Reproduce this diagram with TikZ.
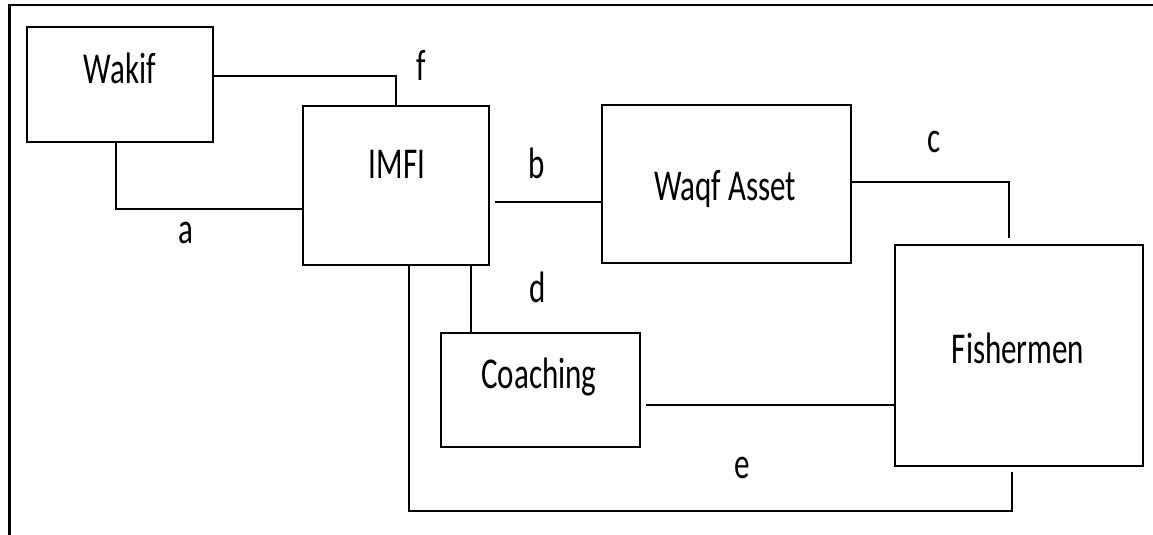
\documentclass[tikz,border=0pt]{standalone}
\usepackage{fontspec}
\setmainfont{Carlito}
\newcommand{\tallt}[1]{\scalebox{1}[1.42]{#1}}
\begin{document}
\begin{tikzpicture}[x=1pt,y=-1pt,
  box/.style={draw=black,line width=2pt,rectangle,inner sep=0pt,fill=none},
  lbl/.style={inner sep=0pt,anchor=base,font=\fontsize{31}{31}\selectfont,text=black},
  conn/.style={draw=black,line width=2pt},
  frameline/.style={draw=black,line width=2.5pt}]
\useasboundingbox (0,0) rectangle (1153,535);
\fill[white] (0,0) rectangle (1153,535);
% frame
\coordinate (ftr) at (1153,5);
\coordinate (ftl) at (9.5,5);
\coordinate (fbl) at (9.5,535);
\draw[frameline] (ftr) -- (ftl) -- (fbl);
% boxes
\node[box,minimum width=186pt,minimum height=115pt] (wakif) at (120,84.5) {};
\node[box,minimum width=186pt,minimum height=159pt] (imfi) at (396,185.5) {};
\node[box,minimum width=249pt,minimum height=158pt] (waqf) at (726.5,184) {};
\node[box,minimum width=199pt,minimum height=114pt] (coach) at (540.5,390) {};
\node[box,minimum width=248pt,minimum height=221pt] (fish) at (1019,355.5) {};
% box texts
\node[lbl] (wakift) at (120,83) {\tallt{Wakif}};
\node[lbl] (imfit) at (397,178) {\tallt{IMFI}};
\node[lbl] (waqft) at (725,200) {\tallt{Waqf Asset}};
\node[lbl] (coacht) at (539,388) {\tallt{Coaching}};
\node[lbl] (fisht) at (1018,363) {\tallt{Fishermen}};
% connector labels
\node[lbl] (la) at (186,243) {\tallt{a}};
\node[lbl] (lb) at (537,178) {\tallt{b}};
\node[lbl] (lc) at (934,152) {\tallt{c}};
\node[lbl] (ld) at (538,302) {\tallt{d}};
\node[lbl] (le) at (742,478) {\tallt{e}};
\node[lbl] (lf) at (421,80) {\tallt{f}};
% free ends
\coordinate (bstart) at (495,202);
\coordinate (cend) at (1009,238);
\coordinate (cfstart) at (646,404.5);
\coordinate (eend) at (1012,472);
% connectors
\draw[conn] (wakif.east |- 0,76) -| (imfi.north -| 396,0);
\draw[conn] (wakif.south -| 116,0) |- (imfi.west |- 0,209);
\draw[conn] (bstart) -- (waqf.west |- bstart);
\draw[conn] (waqf.east |- 0,182) -| (cend);
\draw[conn] (imfi.south -| 471,0) -- (coach.north -| 471,0);
\draw[conn] (cfstart) -- (fish.west |- cfstart);
\draw[conn] (imfi.south -| 409,0) |- (eend |- 0,511) -- (eend);
\end{tikzpicture}
\end{document}
